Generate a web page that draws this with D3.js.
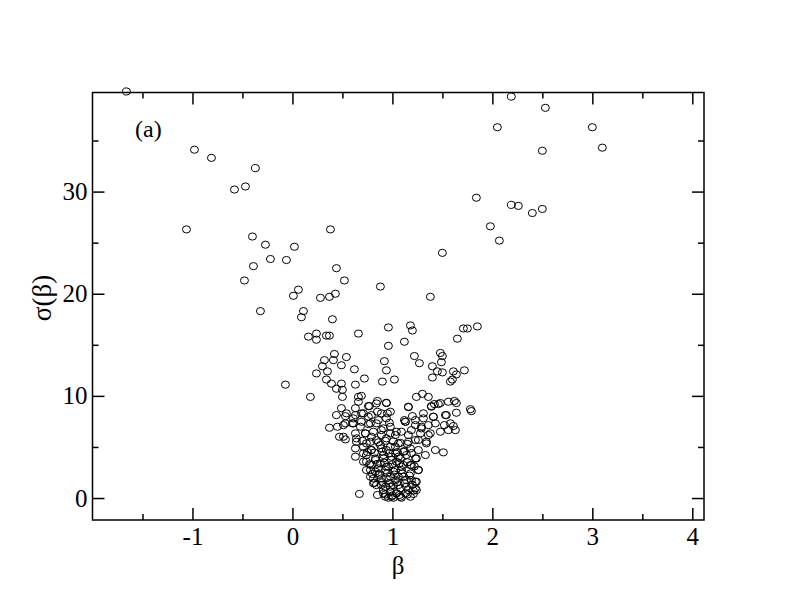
<!DOCTYPE html>
<html><head><meta charset="utf-8">
<script src="https://cdn.jsdelivr.net/npm/d3@7"></script>
<style>body{margin:0;background:#fff}svg{display:block}</style>
</head><body>
<script>
// ---- data ----
const xTicks = [-1, 0, 1, 2, 3, 4];
const xMinorTicks = [-1.5, -0.5, 0.5, 1.5, 2.5, 3.5];
const yTicks = [0, 10, 20, 30];
const yMinorTicks = [5, 15, 25, 35];
const panelLabel = "(a)";
const xTitle = "β";
const yTitle = "σ(β)";

// outlying points (wings)
const wingBeta  = [-1.66,-0.98,-0.81,-0.37,-0.58,-0.47,-1.06,-0.40,-0.27,0.02,-0.22,-0.06,-0.39,-0.48,-0.32,0.01,0.06,0.28,0.37,0.43,0.38,0.44,0.52,0.88,
  2.19,2.53,2.05,3.00,3.10,2.50,1.84,2.19,2.26,2.40,2.50,1.98,2.07,1.50,1.38,
  0.11,0.09,0.40,0.96,0.16,0.24,0.24,0.34,0.37,0.66,1.18,1.20,1.71,1.75,1.85,1.65,0.96,1.12,1.48,1.50,0.42];
const wingSigma = [39.8,34.1,33.3,32.3,30.2,30.5,26.3,25.6,24.8,24.6,23.4,23.3,22.7,21.3,18.3,19.8,20.4,19.6,19.7,20.0,26.3,22.5,21.3,20.7,
  39.3,38.2,36.3,36.3,34.3,34.0,29.4,28.7,28.6,27.9,28.3,26.6,25.2,24.0,19.7,
  18.3,17.7,17.5,16.7,15.8,16.1,15.5,15.9,15.9,16.1,16.9,16.4,16.6,16.6,16.8,15.6,14.9,15.3,14.2,13.9,14.1];

// middle band
const midBeta  = [0.54,0.32,0.41,0.30,0.49,0.62,0.92,0.94,1.02,0.35,0.24,0.34,0.72,0.90,-0.07,0.39,0.44,0.49,0.50,0.63,0.18,0.50,0.66,0.69,0.85,0.94,0.77,0.49,0.63,
  1.49,1.22,1.27,1.40,1.45,1.50,1.61,1.64,1.72,1.40,1.60,1.58,1.24,1.30,1.36,1.48,1.62,1.64,1.39,1.42,1.16,1.78];
const midSigma = [13.8,13.5,13.5,12.9,13.0,12.6,13.4,12.5,11.6,12.4,12.2,11.6,11.7,11.4,11.1,11.2,10.7,11.2,10.6,11.1,9.9,9.9,9.9,10.0,9.5,9.3,9.0,8.8,8.8,
  13.3,13.9,13.2,12.9,12.4,12.3,12.4,12.1,12.5,11.8,11.6,11.4,9.9,10.2,9.9,9.3,9.5,9.3,9.0,9.2,8.9,8.7];

// dense cluster near beta = 1
const coreBeta  = [0.44,0.53,0.61,0.69,0.76,0.85,0.95,1.13,1.20,1.31,1.41,1.54,1.64,1.79,
  0.37,0.45,0.51,0.60,0.68,0.76,0.84,0.97,0.91,1.12,1.23,1.29,1.36,1.43,1.52,1.61,1.63,
  0.47,0.53,0.64,0.73,0.79,0.89,0.98,1.04,1.16,1.23,1.28,1.36,1.34,1.43,1.51,
  0.63,0.71,0.79,0.88,0.94,1.03,1.11,1.18,1.26,1.33,1.24,0.74,0.83,0.91,0.99,1.08,0.63,
  0.71,0.79,0.88,0.96,1.04,1.11,1.19,1.26,0.74,0.83,0.93,1.01,1.09,1.18,
  0.78,0.86,0.94,1.03,1.11,1.19,1.24,0.81,0.89,0.98,1.06,1.14,1.23,
  0.91,0.98,1.04,1.13,1.21,0.93,1.01,1.08,0.96,0.67,
  0.66,0.76,0.84,0.94,0.54,0.63,0.71,0.79,0.89,0.98,0.53,0.61,0.69,0.78,0.86,0.94,
  0.51,0.63,0.73,0.81,0.89,0.98,0.64,0.74,0.84,0.94,1.03,0.71,0.79,0.89,0.98,1.03,
  0.74,0.83,0.91,0.99,0.78,0.86,0.94,1.03,0.81,0.89,0.98,0.84,0.93,1.01,0.91,0.99,1.04,
  1.16,1.39,1.46,1.56,1.13,1.23,1.31,1.41,1.53,1.58,1.09,1.19,1.29,1.38,1.48,1.56,
  1.06,1.16,1.26,1.34,1.06,1.14,1.23,1.09,1.18,1.26,1.06,1.14,1.23,1.08,1.16,1.24,1.09,1.18,
  0.85,0.93,1.00,1.07,1.15,1.21,0.82,0.90,0.97,1.05,1.12,1.20,0.80,0.87,0.95,1.02,1.10,1.17,
  0.77,0.85,0.92,1.00,1.07,1.15,1.22,0.75,0.82,0.90,0.97,1.05,1.12,1.19,0.70,0.78,0.86,0.93,1.01,1.08,1.15];
const coreSigma = [8.12,8.02,7.80,8.29,7.96,8.45,8.29,7.47,8.02,8.29,7.96,8.12,8.35,8.51,
  6.88,6.98,7.14,7.31,6.98,7.24,7.31,7.37,6.82,7.63,7.14,6.82,7.14,7.31,7.14,7.05,6.65,
  6.00,5.74,5.84,6.33,6.00,6.17,6.33,6.49,6.17,5.68,6.33,6.17,5.51,4.70,4.47,
  4.86,5.02,4.70,5.19,4.70,5.02,4.53,4.86,4.70,4.21,3.88,4.21,3.88,4.21,4.05,3.88,4.05,
  3.56,3.23,3.39,3.07,3.56,3.23,3.23,2.74,2.74,2.58,2.74,2.58,2.74,2.41,
  2.09,2.25,1.92,1.76,2.09,1.76,1.60,1.44,1.27,1.11,1.27,1.11,0.95,
  0.78,0.62,0.46,0.46,0.72,0.13,0.03,0.13,0.03,0.40,
  9.43,9.00,9.26,9.33,8.29,8.12,8.29,8.12,8.29,8.45,7.31,7.31,7.47,7.31,7.63,7.80,
  6.00,6.33,6.33,6.49,6.65,6.98,5.51,5.35,5.68,5.84,6.17,4.37,4.70,4.86,5.02,4.37,
  3.56,3.72,3.88,3.72,2.74,2.90,3.07,2.74,1.92,1.92,2.09,1.27,1.11,1.27,0.46,0.13,0.46,
  8.94,8.94,9.20,9.43,7.47,7.63,7.80,7.96,8.12,7.31,6.49,6.65,6.98,6.33,6.49,6.65,
  5.35,5.51,5.68,5.35,4.05,4.21,3.88,3.07,3.23,2.74,2.09,1.76,1.60,0.95,0.78,0.78,0.03,0.13,
  0.30,0.35,0.25,0.30,0.35,0.40,1.50,1.55,1.45,1.55,1.45,1.30,2.35,2.40,2.45,2.30,2.40,2.20,
  3.30,3.35,3.45,3.30,3.40,3.50,3.10,4.50,4.45,4.55,4.40,4.50,4.60,4.40,5.60,5.50,5.45,5.60,5.55,5.40,5.30];

// ---- drawing ----
const W = 792, H = 612;
const mLeft = 92.5, mRight = 704, mTop = 92.5, mBottom = 520;
const serif = "'Liberation Serif','Times New Roman',serif";
const svg = d3.select("body").append("svg").attr("width", W).attr("height", H)
  .style("font-family", serif);

const x = d3.scaleLinear().domain([-2.0, 4.117]).range([mLeft, mRight]);
const y = d3.scaleLinear().domain([-2.15, 39.7]).range([mBottom, mTop]);

const points = [];
[[wingBeta, wingSigma], [midBeta, midSigma], [coreBeta, coreSigma]].forEach(([b, s]) => {
  b.forEach((v, i) => points.push({b: v, s: s[i]}));
});

svg.append("g").selectAll("ellipse").data(points).join("ellipse")
  .attr("cx", d => x(d.b)).attr("cy", d => y(d.s))
  .attr("rx", 4).attr("ry", 3.6)
  .attr("fill", "none").attr("stroke", "#000").attr("stroke-width", 1);

function styleAxis(g) {
  g.select(".domain").remove();
  g.selectAll("line").attr("stroke", "#000").attr("stroke-width", 1.5);
}
const fmt = d => String(d);
const bottomAxis = svg.append("g").attr("transform", `translate(0,${mBottom})`)
  .call(d3.axisBottom(x).tickValues(xTicks).tickSizeInner(-12).tickSizeOuter(0).tickPadding(7).tickFormat(fmt));
styleAxis(bottomAxis);
bottomAxis.selectAll("text").attr("font-size", 25).attr("fill", "#000").attr("font-family", serif);
svg.append("g").attr("transform", `translate(0,${mBottom})`)
  .call(d3.axisBottom(x).tickValues(xMinorTicks).tickSizeInner(-6).tickSizeOuter(0).tickFormat(""))
  .call(styleAxis);
svg.append("g").attr("transform", `translate(0,${mTop})`)
  .call(d3.axisTop(x).tickValues(xTicks).tickSizeInner(-12).tickSizeOuter(0).tickFormat(""))
  .call(styleAxis);
svg.append("g").attr("transform", `translate(0,${mTop})`)
  .call(d3.axisTop(x).tickValues(xMinorTicks).tickSizeInner(-6).tickSizeOuter(0).tickFormat(""))
  .call(styleAxis);

const leftAxis = svg.append("g").attr("transform", `translate(${mLeft},0)`)
  .call(d3.axisLeft(y).tickValues(yTicks).tickSizeInner(-12).tickSizeOuter(0).tickPadding(5).tickFormat(fmt));
styleAxis(leftAxis);
leftAxis.selectAll("text").attr("font-size", 25).attr("fill", "#000").attr("font-family", serif);
svg.append("g").attr("transform", `translate(${mLeft},0)`)
  .call(d3.axisLeft(y).tickValues(yMinorTicks).tickSizeInner(-6).tickSizeOuter(0).tickFormat(""))
  .call(styleAxis);
svg.append("g").attr("transform", `translate(${mRight},0)`)
  .call(d3.axisRight(y).tickValues(yTicks).tickSizeInner(-12).tickSizeOuter(0).tickFormat(""))
  .call(styleAxis);
svg.append("g").attr("transform", `translate(${mRight},0)`)
  .call(d3.axisRight(y).tickValues(yMinorTicks).tickSizeInner(-6).tickSizeOuter(0).tickFormat(""))
  .call(styleAxis);

svg.append("rect").attr("x", mLeft).attr("y", mTop).attr("width", mRight - mLeft).attr("height", mBottom - mTop)
  .attr("fill", "none").attr("stroke", "#000").attr("stroke-width", 1.5);

svg.append("text").attr("x", 135).attr("y", 137).attr("font-size", 24).text(panelLabel);
svg.append("text").attr("x", 398).attr("y", 574).attr("text-anchor", "middle").attr("font-size", 25).text(xTitle);
svg.append("text").attr("transform", `translate(51,298) rotate(-90)`)
  .attr("text-anchor", "middle").attr("font-size", 27).text(yTitle);
</script>
</body></html>
